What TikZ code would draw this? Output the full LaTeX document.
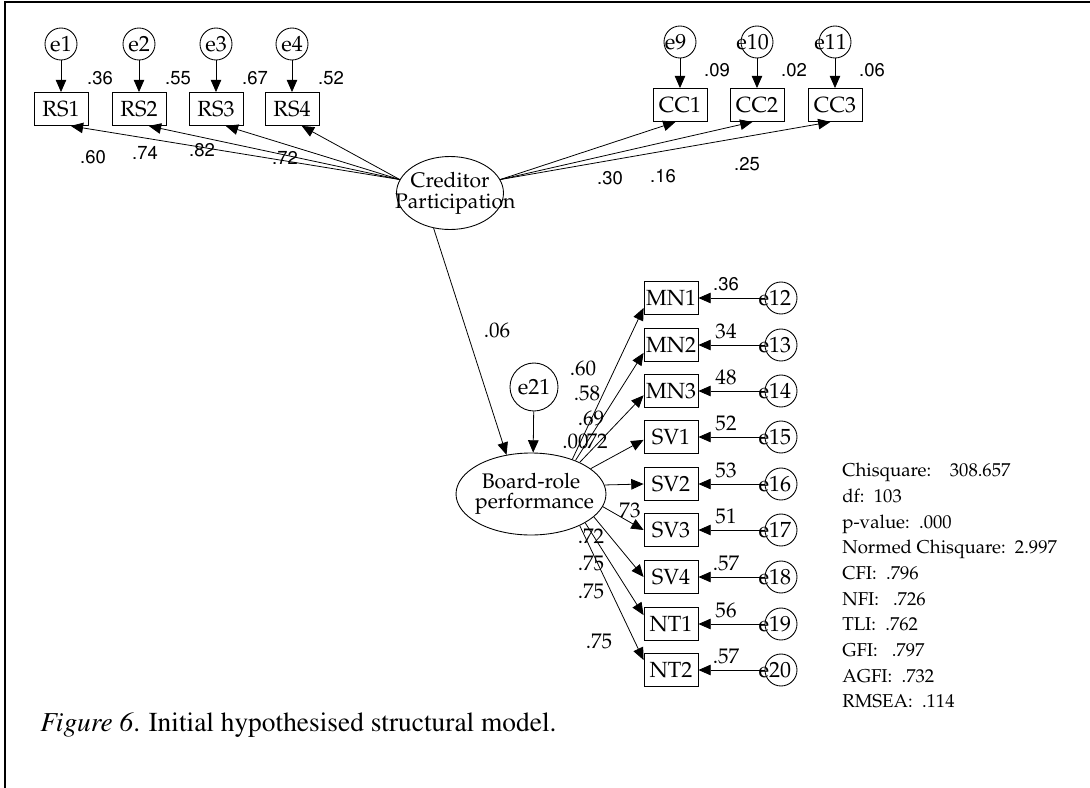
\documentclass[tikz,border=0pt]{standalone}
\usepackage[T1]{fontenc}
\usepackage{tikz}
\usetikzlibrary{arrows.meta}
\usetikzlibrary{shapes.geometric}
\renewcommand{\rmdefault}{ppl}
\newcommand{\numfont}{\fontfamily{phv}\fontsize{10.5}{12}\selectfont}
\newcommand{\capfont}{\fontfamily{ptm}\fontsize{15.6}{17}\selectfont}
\newcommand{\varfont}{\fontsize{12.5}{14}\selectfont}
\newcommand{\zb}[1]{\makebox[0pt]{#1}}

\tikzset{
  obs/.style={draw,rectangle,minimum width=1.08cm,minimum height=0.66cm,inner sep=0pt,line width=0.5pt,font=\varfont},
  err/.style={draw,circle,minimum size=0.64cm,inner sep=0pt,line width=0.5pt,font=\varfont},
  lat/.style={draw,ellipse,inner sep=0pt,align=center,line width=0.5pt,font=\fontsize{12}{14}\selectfont},
  coef/.style={font=\numfont,inner sep=0pt},
  rcoef/.style={font=\fontsize{12}{14}\selectfont,inner sep=0pt},
  pth/.style={-{Triangle[length=7pt,width=6pt]},line width=0.45pt}
}

\begin{document}
\begin{tikzpicture}[x=0.02cm,y=-0.02cm]
\useasboundingbox (0,0) rectangle (1090,788);
\draw[line width=0.6pt] (5,788) -- (5,2) -- (1090,2);

% creditor participation
\node[lat,minimum width=2.14cm,minimum height=1.46cm] (cp) at (450,193) {\zb{Creditor}\\[-2pt]\zb{\kern6pt Participation}};
\foreach \i/\x/\r/\lx/\ly/\l in {1/61/.36/93/157/.60,2/139/.55/145/153/.74,3/216/.67/202/150/.82,4/292/.52/285/158/.72}{
  \node[obs] (rs\i) at (\x,109) {RS\i};
  \node[err] (e\i) at (\x,44) {e\i};
  \draw[pth] (e\i) -- (rs\i);
  \node[coef] (r\i) at (\x+39,78) {\r};
  \draw[pth] (cp.165) -- (rs\i.-60);
  \node[coef] (l\i) at (\lx,\ly) {\l};
}
\foreach \i/\e/\x/\r/\l/\lx/\ly in {1/9/680/.09/.30/610/178,2/10/757/.02/.16/663/176,3/11/835/.06/.25/747/164}{
  \node[obs] (cc\i) at (\x,105) {CC\i};
  \node[err] (e\e) at (\x,42) {\kern-5pt e\e};
  \draw[pth] (e\e) -- (cc\i);
  \node[coef] (rc\i) at (\x+37,70) {\r};
  \draw[pth] (cp.15) -- (cc\i.-105);
  \node[coef] (lc\i) at (\lx,\ly) {\l};
}

% board-role performance
\node[lat,minimum width=3cm,minimum height=1.64cm] (brp) at (531,494) {\zb{Board-role}\\[-3pt]\zb{\kern4pt performance}};
\node[err,minimum size=0.96cm] (e21) at (534,387) {e21};
\draw[pth] (e21) -- (brp.87);
\draw[pth] (cp.245) -- (brp.122);
\node[rcoef] (g1) at (497,330) {.06};

\foreach \n/\y/\e/\a/\b/\r/\s in {MN1/298/12/40/200/.36/coef,MN2/345/13/37/196/34/rcoef,MN3/391/14/33/189/48/rcoef,
  SV1/437/15/23/186/52/rcoef,SV2/484/16/7/180/53/rcoef,SV3/530/17/-10/180/51/rcoef,SV4/577/18/-20/180/.57/rcoef,
  NT1/624/19/-28/162/56/rcoef,NT2/670/20/-33/160/.57/rcoef}{
  \node[obs] (\n) at (671,\y) {\n};
  \node[err] (e\e) at (781,\y) {\kern-7pt e\e};
  \draw[pth] (e\e) -- (\n);
  \draw[pth] (brp.\a) -- (\n.\b);
  \node[\s] (r\n) at (726,\y-14) {\r};
}
\node[rcoef] (lmn1) at (583,368) {.60};
\node[rcoef] (lmn2) at (587,393) {.58};
\node[rcoef] (lmn3) at (591,418) {.69};
\node[rcoef,anchor=west] (lsv1a) at (562,441) {.00};
\node[rcoef,anchor=east] (lsv1b) at (608,441) {.72};
\node[rcoef] (lsv2) at (630,510) {73};
\node[rcoef] (lsv3) at (591,536) {.72};
\node[rcoef] (lsv4) at (591,563) {.75};
\node[rcoef] (lnt1) at (591,591) {.75};
\node[rcoef] (lnt2) at (599,641) {.75};

% fit indices
\node[anchor=north west,align=left,inner sep=0pt,font=\fontsize{10.6}{14.6}\selectfont] (fit) at (842,463)
{Chisquare:\ \ \ \ 308.657\\df:\ \ 103\\p-value:\ \ .000\\Normed Chisquare:\ \ 2.997\\CFI:\ \ .796\\NFI:\ \ \ .726\\TLI:\ \ .762\\GFI:\ \ \ .797\\AGFI:\ \ .732\\RMSEA:\ \ .114};

\node[anchor=west,inner sep=0pt,font=\capfont] (cap) at (40,725) {\textit{Figure 6}. Initial hypothesised structural model.};
\end{tikzpicture}
\end{document}
